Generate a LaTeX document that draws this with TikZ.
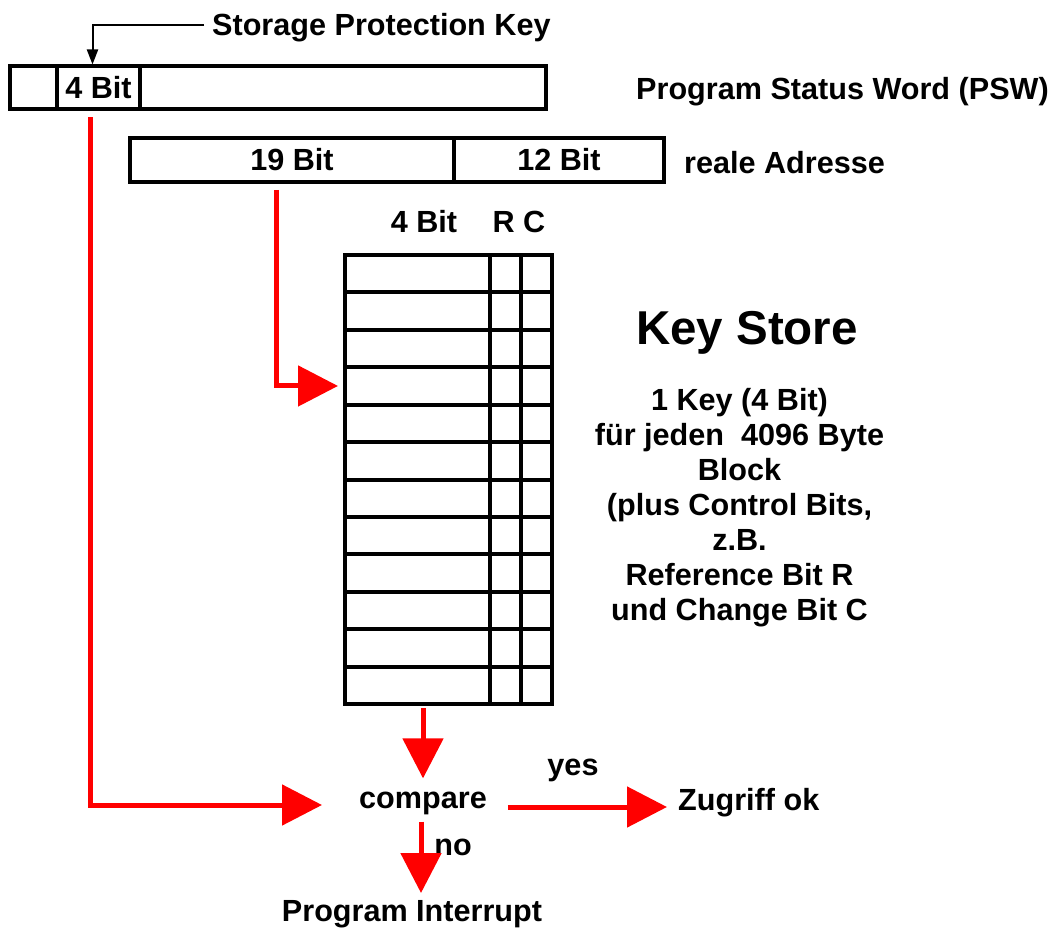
\documentclass[tikz,border=0pt]{standalone}
\usepackage{fontspec}
\setmainfont{Liberation Sans}
\usetikzlibrary{arrows.meta,calc}
\newcommand\lbl{\fontsize{30.6pt}{35pt}\selectfont\bfseries}
\newcommand\biglbl{\fontsize{47.5pt}{52pt}\selectfont\bfseries}
\begin{document}
\begin{tikzpicture}[x=1pt,y=-1pt,
  field/.style={draw,line width=4pt,inner sep=0pt,minimum height=43pt,font=\lbl},
  cell/.style={draw,line width=4pt,inner sep=0pt,minimum height=37.42pt},
  txt/.style={inner sep=0pt,font=\lbl},
  redarrow/.style={draw=red,line width=5pt,-{Triangle[length=40pt,width=40pt]}},
  blackarrow/.style={draw=black,line width=2pt,-{Triangle[length=15pt,width=11pt]}}]
\useasboundingbox (0,0) rectangle (1057,928);

% Program status word
\node[field,minimum width=47pt]  (psw0)    at (33.5,88) {};
\node[field,minimum width=83pt]  (pswkey)  at (98.5,88) {4 Bit};
\node[field,minimum width=406pt] (pswrest) at (343,88) {};
\node[txt,anchor=west] (pswlbl) at (636,92) {Program Status Word (PSW)};

\node[txt,anchor=west] (spk) at (212,28) {Storage Protection Key};
\draw[blackarrow] ([xshift=-8pt,yshift=3pt]spk.west) -| ([xshift=-6pt]pswkey.north);

% real address
\node[field,minimum width=324pt,minimum height=44pt] (addr19) at (292,160) {19 Bit};
\node[field,minimum width=210pt,minimum height=44pt] (addr12) at (559,160) {12 Bit};
\node[txt,anchor=west] (real) at (684,163) {reale Adresse};

% key store table
\node[txt] (hkey) at (424,222) {4 Bit};
\node[txt] (hrc)  at (519,222) {R C};
\foreach \i in {1,...,12} {
  \node[cell,minimum width=145pt] (k\i) at (417.5,{255+(\i-0.5)*37.42}) {};
  \node[cell,minimum width=31pt]  (r\i) at (505.5,{255+(\i-0.5)*37.42}) {};
  \node[cell,minimum width=31pt]  (c\i) at (536.5,{255+(\i-0.5)*37.42}) {};
}

\node[inner sep=0pt,font=\biglbl] (ks) at (747,333) {Key Store};
\node[txt,align=center] (desc) at (739.5,508)
  {1 Key (4 Bit)\\für jeden~ 4096 Byte\\Block\\(plus Control Bits,\\z.B.\\Reference Bit R\\und Change Bit C};

% comparison
\node[txt] (compare) at (423,803) {compare};
\node[txt,anchor=west] (zug) at (678,803) {Zugriff ok};
\node[txt] (pi) at (412,914) {Program Interrupt};
\node[txt] (yes) at (573,770) {yes};
\node[txt] (no) at (453,847) {no};

\draw[redarrow] ([xshift=-16pt,yshift=-6pt]addr19.south) |- ([xshift=-5pt]k4.west);
\draw[redarrow] ([xshift=-8.5pt,yshift=-6pt]pswkey.south) |- ([xshift=-37pt,yshift=-2pt]compare.west);
\draw[redarrow] ([xshift=5.5pt,yshift=-2pt]k12.south) -- ([yshift=13pt]compare.north);
\draw[redarrow] ([xshift=21pt,yshift=-4pt]compare.east) -- ([xshift=-11pt,yshift=-4pt]compare.east -| zug.west);
\draw[redarrow] ([xshift=-2pt,yshift=-7pt]compare.south) -- ($(compare.south |- pi.north)+(-2,-7)$);
\end{tikzpicture}
\end{document}
